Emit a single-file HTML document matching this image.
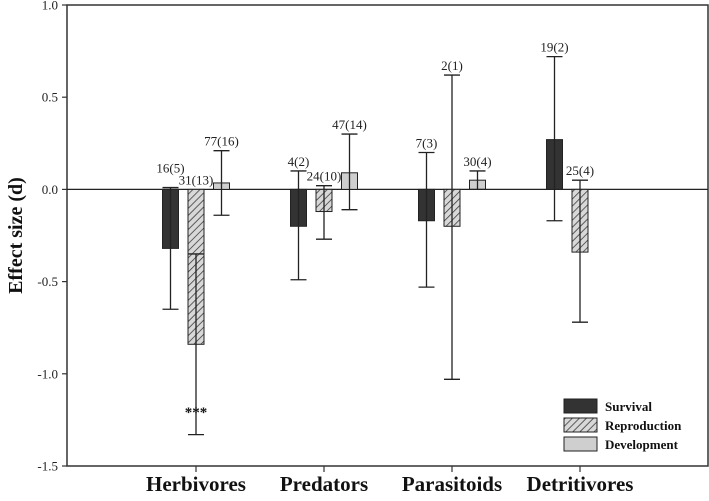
<!DOCTYPE html>
<html><head><meta charset="utf-8"><style>
body{margin:0;background:#fff}
svg{font-family:"Liberation Serif",serif}
</style></head><body>
<svg id="chart" width="709" height="496" xmlns="http://www.w3.org/2000/svg">
<defs><pattern id="hatch" width="5" height="5" patternUnits="userSpaceOnUse" patternTransform="rotate(45)"><rect width="5" height="5" fill="#d8d8d8"/><line x1="0" y1="0" x2="0" y2="5" stroke="#333" stroke-width="1.5"/></pattern></defs>
<g id="plot"></g>
</svg>
<script>
const categories=["Herbivores","Predators","Parasitoids","Detritivores"];
const series=["Survival","Reproduction","Development"];
const survival=[-0.32,-0.2,-0.17,0.27];
const survivalLo=[-0.65,-0.49,-0.53,-0.17];
const survivalHi=[0.01,0.1,0.2,0.72];
const survivalN=["16(5)","4(2)","7(3)","19(2)"];
const reproduction=[-0.84,-0.12,-0.2,-0.34];
const reproductionLo=[-1.33,-0.27,-1.03,-0.72];
const reproductionHi=[-0.35,0.02,0.62,0.05];
const reproductionN=["31(13)","24(10)","2(1)","25(4)"];
const development=[0.035,0.09,0.05,null];
const developmentLo=[-0.14,-0.11,0.0,null];
const developmentHi=[0.21,0.3,0.1,null];
const developmentN=["77(16)","47(14)","30(4)",null];
const yTicks=[1.0,0.5,0.0,-0.5,-1.0,-1.5];

const NS="http://www.w3.org/2000/svg";
const g=document.getElementById('plot');
const L=67,R=708,T=5,B=466;
const y=v=>T+(1.0-v)/2.5*(B-T);
const xc=i=>196+i*128;
const off=[-25.5,0,25.5],bw=16;
function mk(tag,at,parent){const e=document.createElementNS(NS,tag);for(const k in at)e.setAttribute(k,at[k]);(parent||g).appendChild(e);return e;}
let frame=mk('rect',{x:L,y:T,width:R-L,height:B-T,fill:'none',stroke:'#333','stroke-width':1.5});


let zl=mk('line',{x1:L,x2:R,y1:y(0),y2:y(0),stroke:'#222','stroke-width':1.2});


yTicks.forEach(t=>{
  let tk=mk('line',{x1:L-5,x2:L,y1:y(t),y2:y(t),stroke:'#333','stroke-width':1.2});
  
  
  let tx=mk('text',{x:L-9,y:y(t)+4.5,'text-anchor':'end','font-size':13,fill:'#222'});
  tx.textContent=t.toFixed(1);
  
  
});
categories.forEach((c,i)=>{
  let tk=mk('line',{x1:xc(i),x2:xc(i),y1:B,y2:B+6,stroke:'#333','stroke-width':1.2});
  
  
  let tx=mk('text',{x:xc(i),y:491,'text-anchor':'middle','font-size':21,'font-weight':'bold',fill:'#111'});
  tx.textContent=c;
  
  
});
let yt=mk('text',{x:0,y:0,'text-anchor':'middle','font-size':20,'font-weight':'bold',fill:'#111',transform:`translate(22,${y(-0.25)}) rotate(-90)`});
yt.textContent='Effect size (d)';


const data=[[survival,survivalLo,survivalHi,survivalN,'#333'],[reproduction,reproductionLo,reproductionHi,reproductionN,'url(#hatch)'],[development,developmentLo,developmentHi,developmentN,'#cfcfcf']];
data.forEach((s,si)=>{
  categories.forEach((c,i)=>{
    const v=s[0][i];if(v===null)return;
    const x=xc(i)+off[si];
    let b=mk('rect',{x:x-bw/2,y:Math.min(y(v),y(0)),width:bw,height:Math.abs(y(v)-y(0)),fill:s[4],stroke:'#222','stroke-width':1});
    
    
    const lo=s[1][i],hi=s[2][i];
    let e=mk('path',{d:`M${x},${y(hi)}V${y(lo)}M${x-8},${y(hi)}H${x+8}M${x-8},${y(lo)}H${x+8}`,stroke:'#222','stroke-width':1.3,fill:'none'});
    
    
    let ly=y(Math.max(hi,0))-5;
    // avoid collision with neighbouring label of next series
    if(si===0&&data[1][2][i]<=0.02&&hi<0.05) ly-=10;
    let n=mk('text',{x:x,y:ly,'text-anchor':'middle','font-size':13,fill:'#222'});
    n.textContent=s[3][i];
    
    
  });
});
let st=mk('text',{x:xc(0)+off[1],y:417,'text-anchor':'middle','font-size':15,'font-weight':'bold',fill:'#111'});
st.textContent='***';


const lf=['#333','url(#hatch)','#cfcfcf'];
series.forEach((s,i)=>{
  const yy=399+i*19;
  let r=mk('rect',{x:564,y:yy,width:33,height:14,fill:lf[i],stroke:'#222','stroke-width':1});
  
  
  let t=mk('text',{x:605,y:yy+12,'font-size':13,'font-weight':'bold',fill:'#111'});
  t.textContent=s;
  
  
});
</script>
</body></html>
